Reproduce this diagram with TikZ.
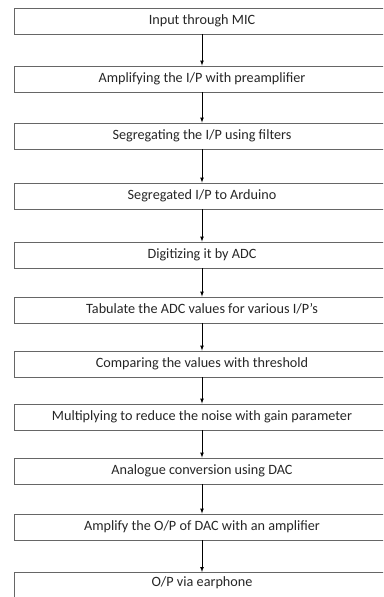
\documentclass[tikz,border=0pt]{standalone}
\usepackage{fontspec}
\setmainfont{Carlito}
\usetikzlibrary{arrows}
\usetikzlibrary{calc,shapes}

\begin{document}
\begin{tikzpicture}[x=1pt,y=-1pt,
	etape/.style={draw=black!60,line width=0.9pt,minimum width=376pt,minimum height=26pt,inner sep=0pt,
		text height=10pt,text depth=3.5pt,font=\fontsize{14.2}{16}\selectfont,text=black!85},
	fleche/.style={-latex,line width=0.7pt}]
				\useasboundingbox (0,0) rectangle (383,597);
				\clip (0,0) rectangle (383,597);
				% Etapes
				\node [etape] (mic) at (202,21) {Input through MIC};
				\node [etape] (preampli) at (202,79) {Amplifying the I/P with preamplifier};
				\node [etape] (filtres) at (202,136) {Segregating the I/P using filters};
				\node [etape] (arduino) at (202,196) {Segregated I/P to Arduino};
				\node [etape] (adc) at (202,255) {Digitizing it by ADC};
				\node [etape] (tableau) at (202,310) {Tabulate the ADC values for various I/P’s};
				\node [etape] (seuil) at (202,364) {Comparing the values with threshold};
				\node [etape] (gain) at (202,417) {Multiplying to reduce the noise with gain parameter};
				\node [etape] (dac) at (202,471) {Analogue conversion using DAC};
				\node [etape] (ampli) at (202,527) {Amplify the O/P of DAC with an amplifier};
				\node [etape,anchor=north,text height=14pt,text depth=30pt] (sortie) at (202,572) {O/P via earphone};
				% Flèches
				\draw [fleche] (mic) -- (preampli);
				\draw [fleche] (preampli) -- (filtres);
				\draw [fleche] (filtres) -- (arduino);
				\draw [fleche] (arduino) -- (adc);
				\draw [fleche] (adc) -- (tableau);
				\draw [fleche] (tableau) -- (seuil);
				\draw [fleche] (seuil) -- (gain);
				\draw [fleche] (gain) -- (dac);
				\draw [fleche] (dac) -- (ampli);
				\draw [fleche] (ampli) -- (sortie);
\end{tikzpicture}
\end{document}
